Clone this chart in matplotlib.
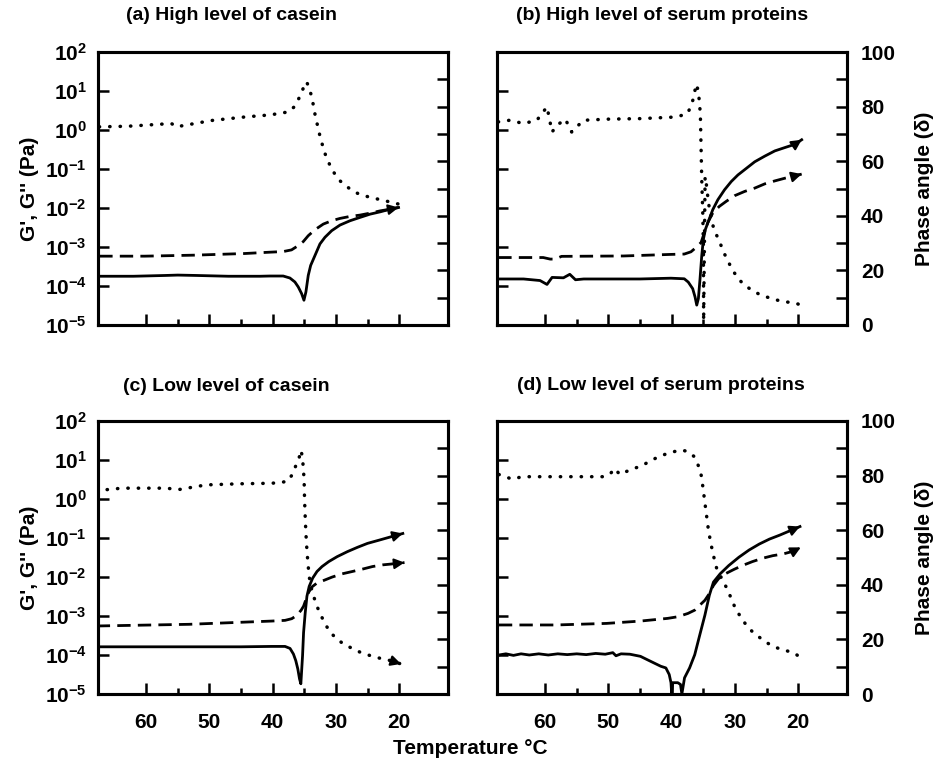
import numpy as np
import matplotlib.pyplot as plt
from matplotlib.ticker import FixedLocator, MultipleLocator, FuncFormatter, NullLocator

plt.rcParams['font.family'] = 'Liberation Sans'
plt.rcParams['font.weight'] = 'bold'
plt.rcParams['axes.labelweight'] = 'bold'
plt.rcParams['mathtext.fontset'] = 'custom'
plt.rcParams['mathtext.rm'] = 'Liberation Sans:bold'
plt.rcParams['mathtext.bf'] = 'Liberation Sans:bold'

# moduli are kept as log10(Pa), phase angle in degrees, temperature in deg C

# (a) high level of casein
a_t_gp = [67.4, 62.0, 57.0, 55.0, 52.0, 47.0, 42.0, 40.45, 38.34, 37.28, 36.49, 35.96, 35.43,
          35.06, 34.75, 34.38, 34.0, 33.32, 32.53, 31.74, 30.68, 29.36, 27.78, 26.2, 24.6,
          23.0, 21.43, 20.11]
a_log_gp = [-3.75, -3.75, -3.73, -3.72, -3.73, -3.75, -3.75, -3.744, -3.744, -3.795, -3.897,
            -4.024, -4.195, -4.365, -4.152, -3.728, -3.473, -3.218, -2.921, -2.751, -2.582,
            -2.437, -2.327, -2.241, -2.157, -2.098, -2.03, -1.987]
a_t_gpp = [67.4, 60.26, 52.34, 44.42, 40.45, 38.34, 37.02, 35.96, 35.17, 34.38, 33.32, 32.0,
           30.68, 29.36, 27.78, 26.2, 24.6, 23.0, 21.43, 20.11]
a_log_gpp = [-3.235, -3.235, -3.209, -3.167, -3.133, -3.117, -3.074, -2.964, -2.862, -2.71,
             -2.557, -2.412, -2.327, -2.267, -2.216, -2.182, -2.131, -2.073, -2.03, -1.987]
a_t_d = [67.4, 62.9, 56.0, 55.2, 49.7, 44.4, 40.18, 38.87, 37.55, 36.65, 35.97, 35.43, 34.9,
         34.64, 34.22, 33.85, 33.59, 33.16, 32.8, 32.53, 32.16, 31.89, 31.37, 30.78, 30.15,
         29.46, 28.4, 27.34, 26.3, 25.12, 23.92, 22.59, 21.17, 20.11]
a_d = [72.6, 72.8, 73.8, 72.6, 74.9, 76.2, 77.0, 77.6, 78.0, 79.8, 82.5, 85.1, 88.5, 89.1,
       86.7, 83.7, 80.7, 75.2, 72.2, 69.1, 66.1, 63.7, 60.7, 57.6, 55.2, 53.0, 50.9, 49.1,
       47.9, 47.1, 46.4, 45.7, 44.9, 44.3]

# (b) high level of serum proteins
b_t_gp = [67.4, 63.4, 60.8, 59.7, 58.9, 57.1, 56.1, 55.2, 53.9, 45.0, 40.13, 38.01, 37.38,
          36.68, 36.31, 36.04, 35.78, 35.52, 35.25, 34.99, 34.67, 34.19, 33.5, 32.7, 31.65,
          30.59, 29.53, 28.2, 26.88, 25.29, 23.7, 22.11, 20.52, 19.46]
b_log_gp = [-3.82, -3.82, -3.86, -3.96, -3.78, -3.79, -3.70, -3.84, -3.82, -3.82, -3.80,
            -3.815, -3.9, -4.069, -4.28, -4.49, -4.32, -3.815, -3.224, -2.8, -2.547, -2.336,
            -2.04, -1.787, -1.533, -1.322, -1.152, -0.983, -0.815, -0.67, -0.536, -0.45,
            -0.366, -0.25]
b_t_gpp = [67.4, 60.3, 59.2, 58.4, 57.4, 47.6, 40.13, 38.01, 36.95, 36.15, 35.36, 34.83, 34.3,
           33.5, 32.45, 31.38, 30.06, 28.47, 26.88, 25.29, 23.7, 22.11, 20.52, 19.46]
b_log_gpp = [-3.27, -3.27, -3.31, -3.31, -3.24, -3.23, -3.19, -3.181, -3.123, -3.012, -2.885,
             -2.631, -2.378, -2.124, -1.956, -1.829, -1.685, -1.575, -1.49, -1.381, -1.305,
             -1.236, -1.178, -1.13]
b_t_d = [67.4, 65.6, 63.4, 61.3, 59.7, 58.9, 58.1, 56.8, 55.8, 55.0, 53.9, 50.2, 44.9, 40.13,
         38.54, 37.48, 36.95, 36.52, 36.15, 35.78, 35.47, 35.36, 35.25, 35.09, 34.99, 34.97,
         34.95, 34.72, 34.51, 34.3, 34.03, 33.66, 33.24, 32.71, 32.18, 31.65, 31.02, 30.33,
         29.53, 28.74, 27.68, 26.35, 25.03, 23.7, 22.11, 20.52, 19.83]
b_d = [74.4, 75.0, 73.8, 75.0, 79.9, 70.7, 73.2, 75.4, 70.7, 72.6, 75.0, 75.4, 75.6, 76.1,
       76.7, 77.5, 80.3, 83.3, 88.2, 85.8, 77.3, 65.2, 53.2, 41.1, 29.0, 15.7, 1.5, 54.3,
       51.3, 47.1, 42.3, 38.0, 34.4, 32.0, 29.0, 26.0, 23.0, 19.9, 17.2, 15.1, 13.3, 11.5,
       10.3, 9.3, 8.5, 8.1, 7.5]

# (c) low level of casein
c_t_gp = [67.8, 55.0, 45.0, 40.18, 38.05, 37.26, 36.72, 36.35, 36.03, 35.76, 35.55, 35.28,
          35.12, 34.86, 34.59, 34.23, 33.68, 33.0, 32.2, 31.14, 29.81, 28.21, 26.62, 25.02,
          23.16, 21.31, 19.44]
c_log_gp = [-3.79, -3.79, -3.79, -3.78, -3.78, -3.831, -3.976, -4.145, -4.357, -4.611,
            -4.738, -4.018, -3.425, -2.917, -2.494, -2.24, -2.028, -1.859, -1.732, -1.605,
            -1.478, -1.351, -1.24, -1.138, -1.054, -0.969, -0.884]
c_t_gpp = [67.8, 53.2, 40.18, 38.05, 36.99, 36.19, 35.5, 35.12, 34.75, 34.32, 33.8, 33.0,
           31.93, 30.61, 29.01, 27.42, 25.82, 24.23, 22.63, 21.04, 19.17]
c_log_gpp = [-3.256, -3.213, -3.13, -3.112, -3.069, -2.985, -2.85, -2.748, -2.579, -2.393,
             -2.256, -2.154, -2.088, -2.002, -1.918, -1.859, -1.798, -1.732, -1.689, -1.664,
             -1.63]
c_t_d = [67.8, 63.8, 56.9, 54.8, 50.5, 45.2, 40.18, 38.58, 37.51, 36.87, 36.35, 35.82, 35.5,
         35.28, 35.12, 35.02, 34.96, 34.86, 34.75, 34.59, 34.43, 34.23, 33.96, 33.53, 33.0,
         32.31, 31.67, 30.88, 29.81, 28.75, 27.42, 26.09, 24.5, 22.9, 21.31, 19.71]
c_d = [74.5, 75.4, 75.4, 74.9, 76.6, 77.0, 77.2, 77.5, 78.1, 80.6, 83.6, 86.6, 89.3, 86.0,
       81.8, 76.9, 70.9, 64.8, 58.8, 52.7, 47.9, 43.0, 39.4, 35.8, 32.1, 28.5, 25.5, 22.5,
       20.1, 18.2, 16.7, 15.2, 14.0, 13.0, 12.2, 11.0]

# (d) low level of serum proteins
d_t_gp = [67.3, 66.2, 65.0, 63.8, 62.5, 61.0, 59.5, 58.0, 56.5, 55.0, 53.5, 52.0, 50.5, 49.3,
          48.8, 48.0, 46.6, 44.94, 43.86, 42.8, 41.72, 40.92, 40.39, 40.11, 40.0, 39.84,
          39.04, 38.61, 38.39, 37.97, 37.17, 36.36, 35.56, 34.75, 34.05, 33.4, 32.34, 30.99,
          29.38, 27.77, 26.16, 24.55, 22.94, 21.34, 19.73]
d_log_gp = [-4.0, -3.97, -4.01, -3.97, -4.0, -3.97, -4.0, -3.97, -3.99, -3.97, -3.99, -3.96,
            -3.98, -3.94, -4.02, -3.97, -3.98, -4.034, -4.12, -4.204, -4.289, -4.331, -4.5,
            -4.71, -5.0, -4.71, -4.71, -4.755, -5.0, -4.585, -4.331, -3.993, -3.485, -2.977,
            -2.469, -2.13, -1.918, -1.707, -1.493, -1.308, -1.155, -1.028, -0.927, -0.817,
            -0.706]
d_t_gpp = [67.3, 58.3, 50.3, 44.94, 43.33, 40.64, 39.03, 37.43, 36.36, 35.56, 34.75, 34.05,
           33.4, 32.6, 31.53, 30.19, 28.85, 27.24, 25.63, 24.02, 22.41, 20.8, 19.6]
d_log_gpp = [-3.23, -3.23, -3.19, -3.13, -3.104, -3.061, -3.019, -2.934, -2.85, -2.723,
             -2.596, -2.426, -2.215, -2.045, -1.918, -1.808, -1.707, -1.605, -1.519, -1.453,
             -1.41, -1.34, -1.24]
d_t_d = [67.3, 65.2, 63.6, 61.0, 55.6, 50.9, 49.8, 49.0, 48.2, 46.1, 44.94, 43.6, 42.25,
         40.92, 39.58, 38.5, 37.43, 36.46, 35.72, 35.29, 35.02, 34.75, 34.48, 34.21, 33.84,
         33.4, 32.87, 32.07, 31.26, 30.57, 29.93, 29.12, 28.21, 27.24, 26.16, 24.83, 23.49,
         22.14, 20.8, 19.89]
d_d = [80.4, 78.7, 79.6, 79.6, 79.6, 79.6, 80.4, 82.6, 80.4, 82.6, 83.3, 85.1, 86.7, 87.9,
       88.8, 89.4, 88.8, 87.0, 83.3, 79.7, 74.9, 70.0, 65.2, 60.3, 55.5, 50.7, 45.8, 42.2,
       38.6, 34.9, 31.3, 28.3, 25.2, 22.8, 20.8, 18.6, 17.0, 16.0, 15.2, 13.8]

titles = ['(a) High level of casein', '(b) High level of serum proteins',
          '(c) Low level of casein', '(d) Low level of serum proteins']

W, H = 938.0, 767.0


def arrow_end(ax, t, v):
    ax.annotate('', xy=(t[-1], v[-1]), xytext=(t[-2], v[-2]),
                arrowprops=dict(arrowstyle='-|>,head_length=0.55,head_width=0.28',
                                color='k', lw=1.5, shrinkA=0, shrinkB=0,
                                mutation_scale=11))


def draw_panel(fig, rect, t_gp, log_gp, t_gpp, log_gpp, t_d, delta, left_col, bottom_row,
               arrows):
    ax = fig.add_axes(rect)
    ax2 = ax.twinx()

    gp = 10.0 ** np.array(log_gp)
    gpp = 10.0 ** np.array(log_gpp)

    ax.plot(t_gp, gp, color='k', lw=2.0)
    ax.plot(t_gpp, gpp, color='k', lw=2.0, linestyle=(0, (4.8, 2.6)))
    ax2.plot(t_d, delta, color='k', lw=2.5, linestyle=(0, (0.1, 2.9)),
             dash_capstyle='round')

    if 'gp' in arrows:
        arrow_end(ax, t_gp, gp)
    if 'gpp' in arrows:
        arrow_end(ax, t_gpp, gpp)
    if 'd' in arrows:
        arrow_end(ax2, t_d, delta)

    ax.set_yscale('log')
    ax.set_ylim(1e-5, 1e2)
    ax.set_xlim(67.6, 12.3)
    ax2.set_ylim(0, 100)

    ax.yaxis.set_major_locator(FixedLocator(10.0 ** np.arange(-5, 3)))
    ax.yaxis.set_minor_locator(NullLocator())
    ax.yaxis.set_major_formatter(
        FuncFormatter(lambda v, p: r'$\mathbf{10^{%d}}$' % round(np.log10(v))))
    ax.xaxis.set_major_locator(MultipleLocator(10))
    ax.xaxis.set_minor_locator(FixedLocator([25, 35, 45, 55]))
    ax2.yaxis.set_major_locator(MultipleLocator(20))
    ax2.yaxis.set_minor_locator(MultipleLocator(10))

    ax.tick_params(axis='y', which='both', direction='in', length=8, width=1.8,
                   labelsize=15, pad=8, right=False, labelleft=left_col)
    ax.tick_params(axis='x', which='major', direction='in', length=8, width=1.8,
                   labelsize=15, pad=14, top=False, labelbottom=bottom_row)
    ax.tick_params(axis='x', which='minor', direction='in', length=4, width=1.8, top=False)
    ax2.tick_params(axis='y', which='both', direction='in', length=8, width=1.8,
                    labelsize=15, pad=10, labelright=not left_col)

    for a in (ax, ax2):
        for s in a.spines.values():
            s.set_linewidth(2.2)

    if left_col:
        ax.set_ylabel("G', G'' (Pa)", fontsize=15, labelpad=4)
    else:
        ax2.set_ylabel('Phase angle (\u03b4)', fontsize=15, labelpad=14)
    return ax


def main():
    fig = plt.figure(figsize=(W / 100, H / 100), dpi=100)

    lx, rx, aw = 98 / W, 497 / W, 350 / W
    ty, by, ah = 1 - 325 / H, 1 - 694 / H, 273 / H

    draw_panel(fig, [lx, ty, aw, ah], a_t_gp, a_log_gp, a_t_gpp, a_log_gpp, a_t_d, a_d,
               True, False, ['gp'])
    draw_panel(fig, [rx, ty, aw, ah], b_t_gp, b_log_gp, b_t_gpp, b_log_gpp, b_t_d, b_d,
               False, False, ['gp', 'gpp'])
    draw_panel(fig, [lx, by, aw, ah], c_t_gp, c_log_gp, c_t_gpp, c_log_gpp, c_t_d, c_d,
               True, True, ['gp', 'gpp', 'd'])
    draw_panel(fig, [rx, by, aw, ah], d_t_gp, d_log_gp, d_t_gpp, d_log_gpp, d_t_d, d_d,
               False, True, ['gp', 'gpp'])

    # panel headings sit above each box, a little left of centre
    for txt, (x, y) in zip(titles, [(231, 15), (662, 15), (226, 387), (661, 385)]):
        fig.text(x / W, 1 - y / H, txt, ha='center', va='center', fontsize=14)

    fig.text(470 / W, 1 - 748 / H, 'Temperature \u00b0C', ha='center', va='center',
             fontsize=15)

    fig.savefig('out.png', dpi=100)


if __name__ == '__main__':
    main()
